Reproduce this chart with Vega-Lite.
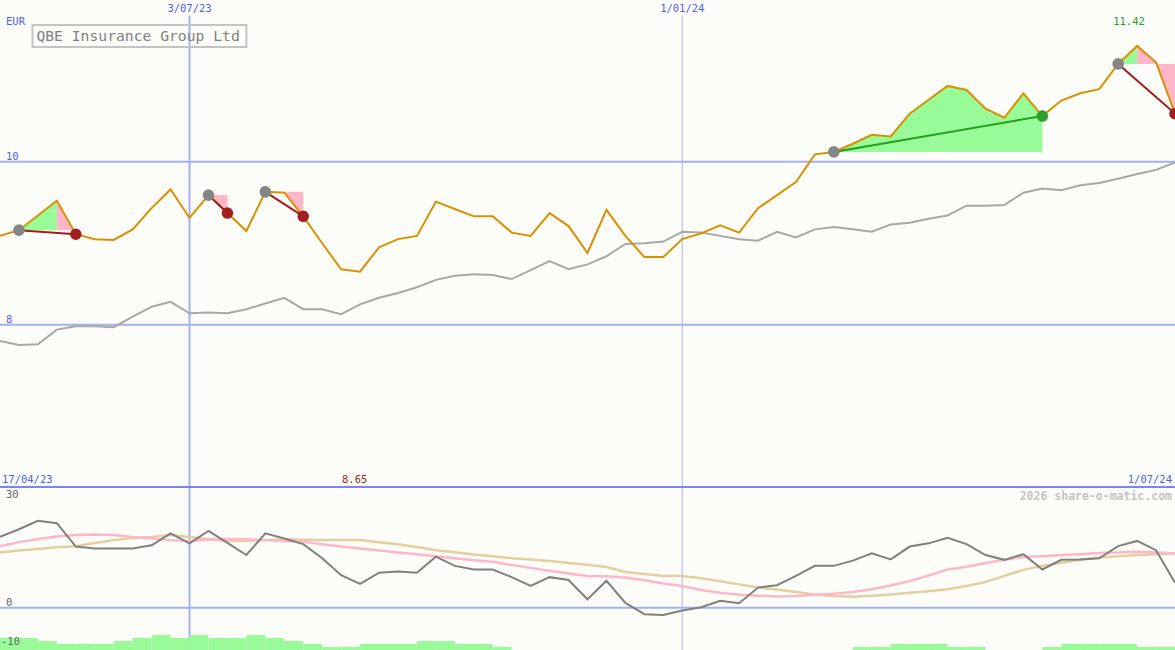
{
"$schema":"https://vega.github.io/schema/vega-lite/v6.json",
"width":1175,"height":650,"autosize":"none","padding":0,
"background":"#fcfdf8",
"config":{"view":{"stroke":null},"text":{"font":"DejaVu Sans Mono","fontSize":10.5}},
"datasets":{
"main":[
{"d":"2023-04-24","close":9.09,"ma":7.80,"osc":17.6,"s1":15.3,"s2":13.7},
{"d":"2023-05-01","close":9.16,"ma":7.75,"osc":19.5,"s1":16.3,"s2":14.2},
{"d":"2023-05-08","close":9.34,"ma":7.76,"osc":21.6,"s1":17.1,"s2":14.6},
{"d":"2023-05-15","close":9.52,"ma":7.94,"osc":21.0,"s1":17.7,"s2":15.0},
{"d":"2023-05-22","close":9.11,"ma":7.98,"osc":15.2,"s1":18.1,"s2":15.3},
{"d":"2023-05-29","close":9.05,"ma":7.98,"osc":14.7,"s1":18.2,"s2":16.1},
{"d":"2023-06-05","close":9.04,"ma":7.97,"osc":14.7,"s1":18.1,"s2":16.8},
{"d":"2023-06-12","close":9.17,"ma":8.10,"osc":14.7,"s1":17.6,"s2":17.3},
{"d":"2023-06-19","close":9.43,"ma":8.22,"osc":15.5,"s1":17.2,"s2":17.6},
{"d":"2023-06-26","close":9.66,"ma":8.28,"osc":18.5,"s1":16.8,"s2":18.1},
{"d":"2023-07-03","close":9.31,"ma":8.14,"osc":16.0,"s1":16.6,"s2":17.6},
{"d":"2023-07-10","close":9.59,"ma":8.15,"osc":19.1,"s1":16.9,"s2":17.1},
{"d":"2023-07-17","close":9.37,"ma":8.14,"osc":16.1,"s1":17.1,"s2":16.6},
{"d":"2023-07-24","close":9.15,"ma":8.19,"osc":13.1,"s1":17.0,"s2":16.6},
{"d":"2023-07-31","close":9.63,"ma":8.26,"osc":18.5,"s1":16.8,"s2":16.8},
{"d":"2023-08-07","close":9.62,"ma":8.33,"osc":17.2,"s1":16.5,"s2":17.0},
{"d":"2023-08-14","close":9.33,"ma":8.19,"osc":15.8,"s1":16.4,"s2":16.9},
{"d":"2023-08-21","close":9.00,"ma":8.19,"osc":12.3,"s1":15.8,"s2":16.8},
{"d":"2023-08-28","close":8.68,"ma":8.13,"osc":8.1,"s1":15.2,"s2":16.8},
{"d":"2023-09-04","close":8.65,"ma":8.25,"osc":5.9,"s1":14.7,"s2":16.8},
{"d":"2023-09-11","close":8.95,"ma":8.33,"osc":8.7,"s1":14.2,"s2":16.3},
{"d":"2023-09-18","close":9.05,"ma":8.39,"osc":9.0,"s1":13.7,"s2":15.8},
{"d":"2023-09-25","close":9.09,"ma":8.46,"osc":8.7,"s1":13.3,"s2":15.1},
{"d":"2023-10-02","close":9.51,"ma":8.55,"osc":12.7,"s1":12.8,"s2":14.3},
{"d":"2023-10-09","close":9.42,"ma":8.60,"osc":10.4,"s1":12.3,"s2":13.8},
{"d":"2023-10-16","close":9.33,"ma":8.62,"osc":9.5,"s1":11.8,"s2":13.2},
{"d":"2023-10-23","close":9.33,"ma":8.61,"osc":9.5,"s1":11.4,"s2":12.8},
{"d":"2023-10-30","close":9.13,"ma":8.56,"osc":7.6,"s1":10.6,"s2":12.3},
{"d":"2023-11-06","close":9.09,"ma":8.67,"osc":5.4,"s1":9.9,"s2":12.0},
{"d":"2023-11-13","close":9.37,"ma":8.78,"osc":7.6,"s1":9.2,"s2":11.6},
{"d":"2023-11-20","close":9.21,"ma":8.68,"osc":6.9,"s1":8.5,"s2":11.1},
{"d":"2023-11-27","close":8.88,"ma":8.74,"osc":2.1,"s1":7.9,"s2":10.7},
{"d":"2023-12-04","close":9.41,"ma":8.84,"osc":6.7,"s1":7.8,"s2":10.1},
{"d":"2023-12-11","close":9.09,"ma":8.99,"osc":1.2,"s1":7.5,"s2":8.9},
{"d":"2023-12-18","close":8.83,"ma":9.00,"osc":-1.6,"s1":6.8,"s2":8.4},
{"d":"2023-12-25","close":8.83,"ma":9.02,"osc":-1.8,"s1":6.0,"s2":7.9},
{"d":"2024-01-01","close":9.05,"ma":9.14,"osc":-0.7,"s1":5.4,"s2":7.9},
{"d":"2024-01-08","close":9.12,"ma":9.13,"osc":0.1,"s1":4.4,"s2":7.3},
{"d":"2024-01-15","close":9.22,"ma":9.09,"osc":1.7,"s1":3.7,"s2":6.6},
{"d":"2024-01-22","close":9.13,"ma":9.05,"osc":1.1,"s1":3.2,"s2":5.8},
{"d":"2024-01-29","close":9.43,"ma":9.03,"osc":5.0,"s1":3.0,"s2":5.0},
{"d":"2024-02-05","close":9.59,"ma":9.14,"osc":5.6,"s1":2.8,"s2":4.5},
{"d":"2024-02-12","close":9.75,"ma":9.07,"osc":7.9,"s1":2.9,"s2":3.9},
{"d":"2024-02-19","close":10.09,"ma":9.17,"osc":10.4,"s1":3.2,"s2":3.3},
{"d":"2024-02-26","close":10.12,"ma":9.20,"osc":10.4,"s1":3.5,"s2":2.9},
{"d":"2024-03-04","close":10.22,"ma":9.17,"osc":11.7,"s1":3.9,"s2":2.7},
{"d":"2024-03-11","close":10.33,"ma":9.14,"osc":13.5,"s1":4.6,"s2":3.0},
{"d":"2024-03-18","close":10.31,"ma":9.23,"osc":12.0,"s1":5.5,"s2":3.3},
{"d":"2024-03-25","close":10.59,"ma":9.25,"osc":15.2,"s1":6.6,"s2":3.7},
{"d":"2024-04-01","close":10.76,"ma":9.30,"osc":16.0,"s1":8.0,"s2":4.1},
{"d":"2024-04-08","close":10.93,"ma":9.34,"osc":17.4,"s1":9.5,"s2":4.6},
{"d":"2024-04-15","close":10.88,"ma":9.46,"osc":15.8,"s1":10.2,"s2":5.4},
{"d":"2024-04-22","close":10.65,"ma":9.46,"osc":13.1,"s1":11.1,"s2":6.4},
{"d":"2024-04-29","close":10.54,"ma":9.47,"osc":11.9,"s1":11.9,"s2":7.9},
{"d":"2024-05-06","close":10.84,"ma":9.62,"osc":13.3,"s1":12.6,"s2":9.4},
{"d":"2024-05-13","close":10.56,"ma":9.67,"osc":9.5,"s1":12.8,"s2":10.4},
{"d":"2024-05-20","close":10.75,"ma":9.65,"osc":11.9,"s1":13.1,"s2":11.2},
{"d":"2024-05-27","close":10.84,"ma":9.71,"osc":12.0,"s1":13.3,"s2":11.9},
{"d":"2024-06-03","close":10.89,"ma":9.74,"osc":12.3,"s1":13.6,"s2":12.5},
{"d":"2024-06-10","close":11.20,"ma":9.79,"osc":15.3,"s1":13.7,"s2":12.8},
{"d":"2024-06-17","close":11.42,"ma":9.85,"osc":16.6,"s1":13.9,"s2":13.1},
{"d":"2024-06-24","close":11.22,"ma":9.90,"osc":14.3,"s1":13.8,"s2":13.3},
{"d":"2024-07-01","close":10.59,"ma":9.99,"osc":6.2,"s1":13.5,"s2":13.5}
],
"vol":[
{"d":"2023-04-24","end":"2023-05-01","v":4},
{"d":"2023-05-01","end":"2023-05-08","v":4},
{"d":"2023-05-08","end":"2023-05-15","v":3},
{"d":"2023-05-15","end":"2023-05-22","v":2},
{"d":"2023-05-22","end":"2023-05-29","v":2},
{"d":"2023-05-29","end":"2023-06-05","v":2},
{"d":"2023-06-05","end":"2023-06-12","v":3},
{"d":"2023-06-12","end":"2023-06-19","v":4},
{"d":"2023-06-19","end":"2023-06-26","v":5},
{"d":"2023-06-26","end":"2023-07-03","v":4},
{"d":"2023-07-03","end":"2023-07-10","v":5},
{"d":"2023-07-10","end":"2023-07-17","v":4},
{"d":"2023-07-17","end":"2023-07-24","v":4},
{"d":"2023-07-24","end":"2023-07-31","v":5},
{"d":"2023-07-31","end":"2023-08-07","v":4},
{"d":"2023-08-07","end":"2023-08-14","v":3},
{"d":"2023-08-14","end":"2023-08-21","v":2},
{"d":"2023-08-21","end":"2023-08-28","v":1},
{"d":"2023-08-28","end":"2023-09-04","v":1},
{"d":"2023-09-04","end":"2023-09-11","v":2},
{"d":"2023-09-11","end":"2023-09-18","v":2},
{"d":"2023-09-18","end":"2023-09-25","v":2},
{"d":"2023-09-25","end":"2023-10-02","v":3},
{"d":"2023-10-02","end":"2023-10-09","v":3},
{"d":"2023-10-09","end":"2023-10-16","v":2},
{"d":"2023-10-16","end":"2023-10-23","v":2},
{"d":"2023-10-23","end":"2023-10-30","v":1},
{"d":"2024-03-04","end":"2024-03-11","v":1},
{"d":"2024-03-11","end":"2024-03-18","v":1},
{"d":"2024-03-18","end":"2024-03-25","v":2},
{"d":"2024-03-25","end":"2024-04-01","v":2},
{"d":"2024-04-01","end":"2024-04-08","v":2},
{"d":"2024-04-08","end":"2024-04-15","v":1},
{"d":"2024-04-15","end":"2024-04-22","v":1},
{"d":"2024-05-13","end":"2024-05-20","v":1},
{"d":"2024-05-20","end":"2024-05-27","v":2},
{"d":"2024-05-27","end":"2024-06-03","v":2},
{"d":"2024-06-03","end":"2024-06-10","v":2},
{"d":"2024-06-10","end":"2024-06-17","v":2},
{"d":"2024-06-17","end":"2024-06-24","v":1},
{"d":"2024-06-24","end":"2024-07-01","v":1}
],
"fills":[
{"seg":"e1a","kind":"gain","d":"2023-05-01","p":9.16,"base":9.16},
{"seg":"e1a","kind":"gain","d":"2023-05-08","p":9.34,"base":9.16},
{"seg":"e1a","kind":"gain","d":"2023-05-15","p":9.52,"base":9.16},
{"seg":"e1b","kind":"loss","d":"2023-05-15","p":9.52,"base":9.16},
{"seg":"e1b","kind":"loss","d":"2023-05-22","p":9.11,"base":9.16},
{"seg":"e2","kind":"loss","d":"2023-07-10","p":9.59,"base":9.59},
{"seg":"e2","kind":"loss","d":"2023-07-17","p":9.37,"base":9.59},
{"seg":"e3","kind":"loss","d":"2023-07-31","p":9.63,"base":9.63},
{"seg":"e3","kind":"loss","d":"2023-08-07","p":9.62,"base":9.63},
{"seg":"e3","kind":"loss","d":"2023-08-14","p":9.33,"base":9.63},
{"seg":"e4","kind":"gain","d":"2024-02-26","p":10.12,"base":10.12},
{"seg":"e4","kind":"gain","d":"2024-03-04","p":10.22,"base":10.12},
{"seg":"e4","kind":"gain","d":"2024-03-11","p":10.33,"base":10.12},
{"seg":"e4","kind":"gain","d":"2024-03-18","p":10.31,"base":10.12},
{"seg":"e4","kind":"gain","d":"2024-03-25","p":10.59,"base":10.12},
{"seg":"e4","kind":"gain","d":"2024-04-01","p":10.76,"base":10.12},
{"seg":"e4","kind":"gain","d":"2024-04-08","p":10.93,"base":10.12},
{"seg":"e4","kind":"gain","d":"2024-04-15","p":10.88,"base":10.12},
{"seg":"e4","kind":"gain","d":"2024-04-22","p":10.65,"base":10.12},
{"seg":"e4","kind":"gain","d":"2024-04-29","p":10.54,"base":10.12},
{"seg":"e4","kind":"gain","d":"2024-05-06","p":10.84,"base":10.12},
{"seg":"e4","kind":"gain","d":"2024-05-13","p":10.56,"base":10.12},
{"seg":"e5a","kind":"gain","d":"2024-06-10","p":11.20,"base":11.20},
{"seg":"e5a","kind":"gain","d":"2024-06-17","p":11.42,"base":11.20},
{"seg":"e5b","kind":"loss","d":"2024-06-17","p":11.42,"base":11.20},
{"seg":"e5b","kind":"loss","d":"2024-06-24","p":11.22,"base":11.20},
{"seg":"e5b","kind":"loss","d":"2024-07-01","p":10.59,"base":11.20}
],
"trades":[
{"trade":"e1","result":"loss","d":"2023-05-01","p":9.16},
{"trade":"e1","result":"loss","d":"2023-05-22","p":9.11},
{"trade":"e2","result":"loss","d":"2023-07-10","p":9.59},
{"trade":"e2","result":"loss","d":"2023-07-17","p":9.37},
{"trade":"e3","result":"loss","d":"2023-07-31","p":9.63},
{"trade":"e3","result":"loss","d":"2023-08-14","p":9.33},
{"trade":"e4","result":"gain","d":"2024-02-26","p":10.12},
{"trade":"e4","result":"gain","d":"2024-05-13","p":10.56},
{"trade":"e5","result":"loss","d":"2024-06-10","p":11.20},
{"trade":"e5","result":"loss","d":"2024-07-01","p":10.59}
],
"marks":[
{"role":"entry","d":"2023-05-01","p":9.16},
{"role":"loss","d":"2023-05-22","p":9.11},
{"role":"entry","d":"2023-07-10","p":9.59},
{"role":"loss","d":"2023-07-17","p":9.37},
{"role":"entry","d":"2023-07-31","p":9.63},
{"role":"loss","d":"2023-08-14","p":9.33},
{"role":"entry","d":"2024-02-26","p":10.12},
{"role":"gain","d":"2024-05-13","p":10.56},
{"role":"entry","d":"2024-06-10","p":11.20},
{"role":"loss","d":"2024-07-01","p":10.59}
],
"vgrid":[
{"kind":"major","d":"2023-07-03","top":11.79,"bot":4.009},
{"kind":"minor","d":"2024-01-01","top":11.79,"bot":4.009}
],
"hgrid":[{"p":10},{"p":8}],
"ogrid":[{"kind":"sep","v":30},{"kind":"zero","v":0}],
"box":[{"d":"2023-05-06","end":"2023-07-24","top":11.677,"bot":11.407}],
"ptext":[
{"grp":"blueL","d":"2023-04-24","p":11.677,"t":"EUR"},
{"grp":"blueL","d":"2023-04-24","p":10.027,"t":"10"},
{"grp":"blueL","d":"2023-04-24","p":8.021,"t":"8"},
{"grp":"blueL2","d":"2023-04-24","p":6.058,"t":"17/04/23"},
{"grp":"blueC","d":"2023-07-03","p":11.837,"t":"3/07/23"},
{"grp":"blueC","d":"2024-01-01","p":11.837,"t":"1/01/24"},
{"grp":"blueR","d":"2024-07-01","p":6.058,"t":"1/07/24"},
{"grp":"red","d":"2023-09-02","p":6.058,"t":"8.65"},
{"grp":"green","d":"2024-06-14","p":11.677,"t":"11.42"},
{"grp":"title","d":"2023-06-14","p":11.485,"t":"QBE Insurance Group Ltd"}
],
"otext":[
{"grp":"lab","d":"2023-04-24","v":27.27,"t":"30"},
{"grp":"lab","d":"2023-04-24","v":0.42,"t":"0"},
{"grp":"lab2","d":"2023-04-24","v":-9.3,"t":"-10"},
{"grp":"wm","d":"2024-07-01","v":26.77,"t":"2026 share-o-matic.com"}
]
},
"layer":[
{"resolve":{"scale":{"color":"independent"}},
 "layer":[
  {"data":{"name":"vgrid"},"transform":[{"filter":"datum.kind == 'major'"}],"mark":{"type":"rule","color":"#a4b0f0","strokeWidth":2},
   "encoding":{"x":{"field":"d","type":"temporal","scale":{"type":"utc","nice":false,"domain":[{"year":2023,"month":4,"date":24,"utc":true},{"year":2024,"month":7,"date":1,"utc":true}]},"axis":null},
   "y":{"field":"top","type":"quantitative","scale":{"domain":[4.009,11.984],"nice":false,"zero":false},"axis":null},"y2":{"field":"bot"}}},
  {"data":{"name":"vgrid"},"transform":[{"filter":"datum.kind == 'minor'"}],"mark":{"type":"rule","color":"#b0b4d4","strokeWidth":1},
   "encoding":{"x":{"field":"d","type":"temporal","scale":{"type":"utc","nice":false,"domain":[{"year":2023,"month":4,"date":24,"utc":true},{"year":2024,"month":7,"date":1,"utc":true}]},"axis":null},
   "y":{"field":"top","type":"quantitative","scale":{"domain":[4.009,11.984],"nice":false,"zero":false},"axis":null},"y2":{"field":"bot"}}},
  {"data":{"name":"hgrid"},"mark":{"type":"rule","color":"#a4b0f0","strokeWidth":2},
   "encoding":{"y":{"field":"p","type":"quantitative","scale":{"domain":[4.009,11.984],"nice":false,"zero":false},"axis":null}}},
  {"data":{"name":"fills"},"mark":{"type":"area","opacity":1,"interpolate":"linear"},
   "encoding":{"x":{"field":"d","type":"temporal","scale":{"type":"utc","nice":false,"domain":[{"year":2023,"month":4,"date":24,"utc":true},{"year":2024,"month":7,"date":1,"utc":true}]},"axis":null},
   "y":{"field":"p","type":"quantitative","scale":{"domain":[4.009,11.984],"nice":false,"zero":false},"axis":null},"y2":{"field":"base"},
   "detail":{"field":"seg"},
   "color":{"field":"kind","type":"nominal","scale":{"domain":["gain","loss"],"range":["#98fb98","#ffb6c8"]},"legend":null}}},
  {"data":{"name":"main"},"mark":{"type":"line","color":"#a8a8a8","strokeWidth":2},
   "encoding":{"x":{"field":"d","type":"temporal","scale":{"type":"utc","nice":false,"domain":[{"year":2023,"month":4,"date":24,"utc":true},{"year":2024,"month":7,"date":1,"utc":true}]},"axis":null},
   "y":{"field":"ma","type":"quantitative","scale":{"domain":[4.009,11.984],"nice":false,"zero":false},"axis":null}}},
  {"data":{"name":"main"},"mark":{"type":"line","color":"#d99000","strokeWidth":2},
   "encoding":{"x":{"field":"d","type":"temporal","scale":{"type":"utc","nice":false,"domain":[{"year":2023,"month":4,"date":24,"utc":true},{"year":2024,"month":7,"date":1,"utc":true}]},"axis":null},
   "y":{"field":"close","type":"quantitative","scale":{"domain":[4.009,11.984],"nice":false,"zero":false},"axis":null}}},
  {"data":{"name":"trades"},"mark":{"type":"line","strokeWidth":2},
   "encoding":{"x":{"field":"d","type":"temporal","scale":{"type":"utc","nice":false,"domain":[{"year":2023,"month":4,"date":24,"utc":true},{"year":2024,"month":7,"date":1,"utc":true}]},"axis":null},
   "y":{"field":"p","type":"quantitative","scale":{"domain":[4.009,11.984],"nice":false,"zero":false},"axis":null},
   "detail":{"field":"trade"},
   "color":{"field":"result","type":"nominal","scale":{"domain":["gain","loss"],"range":["#22a022","#a01c1c"]},"legend":null}}},
  {"data":{"name":"marks"},"mark":{"type":"point","filled":true,"opacity":1,"size":135},
   "encoding":{"x":{"field":"d","type":"temporal","scale":{"type":"utc","nice":false,"domain":[{"year":2023,"month":4,"date":24,"utc":true},{"year":2024,"month":7,"date":1,"utc":true}]},"axis":null},
   "y":{"field":"p","type":"quantitative","scale":{"domain":[4.009,11.984],"nice":false,"zero":false},"axis":null},
   "color":{"field":"role","type":"nominal","scale":{"domain":["entry","loss","gain"],"range":["#858585","#a31e1e","#2a9f2a"]},"legend":null}}},
  {"data":{"name":"box"},"mark":{"type":"rect","fillOpacity":0,"stroke":"#c4c4c4","strokeWidth":2},
   "encoding":{"x":{"field":"d","type":"temporal","scale":{"type":"utc","nice":false,"domain":[{"year":2023,"month":4,"date":24,"utc":true},{"year":2024,"month":7,"date":1,"utc":true}]},"axis":null},"x2":{"field":"end"},
   "y":{"field":"top","type":"quantitative","scale":{"domain":[4.009,11.984],"nice":false,"zero":false},"axis":null},"y2":{"field":"bot"}}},
  {"data":{"name":"ptext"},"transform":[{"filter":"datum.grp == 'title'"}],"mark":{"type":"text","align":"center","baseline":"alphabetic","fontSize":14.7,"color":"#808080"},
   "encoding":{"x":{"field":"d","type":"temporal","scale":{"type":"utc","nice":false,"domain":[{"year":2023,"month":4,"date":24,"utc":true},{"year":2024,"month":7,"date":1,"utc":true}]},"axis":null},
   "y":{"field":"p","type":"quantitative","scale":{"domain":[4.009,11.984],"nice":false,"zero":false},"axis":null},"text":{"field":"t"}}},
  {"data":{"name":"ptext"},"transform":[{"filter":"datum.grp == 'blueL'"}],"mark":{"type":"text","align":"left","baseline":"alphabetic","dx":6,"color":"#4c5ef0"},
   "encoding":{"x":{"field":"d","type":"temporal","scale":{"type":"utc","nice":false,"domain":[{"year":2023,"month":4,"date":24,"utc":true},{"year":2024,"month":7,"date":1,"utc":true}]},"axis":null},
   "y":{"field":"p","type":"quantitative","scale":{"domain":[4.009,11.984],"nice":false,"zero":false},"axis":null},"text":{"field":"t"}}},
  {"data":{"name":"ptext"},"transform":[{"filter":"datum.grp == 'blueL2'"}],"mark":{"type":"text","align":"left","baseline":"alphabetic","dx":2,"color":"#4c5ef0"},
   "encoding":{"x":{"field":"d","type":"temporal","scale":{"type":"utc","nice":false,"domain":[{"year":2023,"month":4,"date":24,"utc":true},{"year":2024,"month":7,"date":1,"utc":true}]},"axis":null},
   "y":{"field":"p","type":"quantitative","scale":{"domain":[4.009,11.984],"nice":false,"zero":false},"axis":null},"text":{"field":"t"}}},
  {"data":{"name":"ptext"},"transform":[{"filter":"datum.grp == 'blueC'"}],"mark":{"type":"text","align":"center","baseline":"alphabetic","color":"#4c5ef0"},
   "encoding":{"x":{"field":"d","type":"temporal","scale":{"type":"utc","nice":false,"domain":[{"year":2023,"month":4,"date":24,"utc":true},{"year":2024,"month":7,"date":1,"utc":true}]},"axis":null},
   "y":{"field":"p","type":"quantitative","scale":{"domain":[4.009,11.984],"nice":false,"zero":false},"axis":null},"text":{"field":"t"}}},
  {"data":{"name":"ptext"},"transform":[{"filter":"datum.grp == 'blueR'"}],"mark":{"type":"text","align":"right","baseline":"alphabetic","dx":-3,"color":"#4c5ef0"},
   "encoding":{"x":{"field":"d","type":"temporal","scale":{"type":"utc","nice":false,"domain":[{"year":2023,"month":4,"date":24,"utc":true},{"year":2024,"month":7,"date":1,"utc":true}]},"axis":null},
   "y":{"field":"p","type":"quantitative","scale":{"domain":[4.009,11.984],"nice":false,"zero":false},"axis":null},"text":{"field":"t"}}},
  {"data":{"name":"ptext"},"transform":[{"filter":"datum.grp == 'red'"}],"mark":{"type":"text","align":"center","baseline":"alphabetic","color":"#a01c1c"},
   "encoding":{"x":{"field":"d","type":"temporal","scale":{"type":"utc","nice":false,"domain":[{"year":2023,"month":4,"date":24,"utc":true},{"year":2024,"month":7,"date":1,"utc":true}]},"axis":null},
   "y":{"field":"p","type":"quantitative","scale":{"domain":[4.009,11.984],"nice":false,"zero":false},"axis":null},"text":{"field":"t"}}},
  {"data":{"name":"ptext"},"transform":[{"filter":"datum.grp == 'green'"}],"mark":{"type":"text","align":"center","baseline":"alphabetic","color":"#22a022"},
   "encoding":{"x":{"field":"d","type":"temporal","scale":{"type":"utc","nice":false,"domain":[{"year":2023,"month":4,"date":24,"utc":true},{"year":2024,"month":7,"date":1,"utc":true}]},"axis":null},
   "y":{"field":"p","type":"quantitative","scale":{"domain":[4.009,11.984],"nice":false,"zero":false},"axis":null},"text":{"field":"t"}}}
 ]},
{"layer":[
  {"data":{"name":"vol"},"mark":{"type":"rect","color":"#98fb98"},
   "encoding":{"x":{"field":"d","type":"temporal","scale":{"type":"utc","nice":false,"domain":[{"year":2023,"month":4,"date":24,"utc":true},{"year":2024,"month":7,"date":1,"utc":true}]},"axis":null},"x2":{"field":"end"},
   "y":{"field":"v","type":"quantitative","scale":{"domain":[0,216.67],"nice":false,"zero":false},"axis":null},"y2":{"datum":0}}}
 ]},
{"layer":[
  {"data":{"name":"ogrid"},"transform":[{"filter":"datum.kind == 'zero'"}],"mark":{"type":"rule","color":"#a4b0f0","strokeWidth":2},
   "encoding":{"y":{"field":"v","type":"quantitative","scale":{"domain":[-10.51,151.05],"nice":false,"zero":false},"axis":null}}},
  {"data":{"name":"ogrid"},"transform":[{"filter":"datum.kind == 'sep'"}],"mark":{"type":"rule","color":"#7a86ea","strokeWidth":2},
   "encoding":{"y":{"field":"v","type":"quantitative","scale":{"domain":[-10.51,151.05],"nice":false,"zero":false},"axis":null}}},
  {"data":{"name":"main"},"mark":{"type":"line","color":"#e3cf9f","strokeWidth":2.5},
   "encoding":{"x":{"field":"d","type":"temporal","scale":{"type":"utc","nice":false,"domain":[{"year":2023,"month":4,"date":24,"utc":true},{"year":2024,"month":7,"date":1,"utc":true}]},"axis":null},
   "y":{"field":"s2","type":"quantitative","scale":{"domain":[-10.51,151.05],"nice":false,"zero":false},"axis":null}}},
  {"data":{"name":"main"},"mark":{"type":"line","color":"#ffb6c8","strokeWidth":2.5},
   "encoding":{"x":{"field":"d","type":"temporal","scale":{"type":"utc","nice":false,"domain":[{"year":2023,"month":4,"date":24,"utc":true},{"year":2024,"month":7,"date":1,"utc":true}]},"axis":null},
   "y":{"field":"s1","type":"quantitative","scale":{"domain":[-10.51,151.05],"nice":false,"zero":false},"axis":null}}},
  {"data":{"name":"main"},"mark":{"type":"line","color":"#808080","strokeWidth":2},
   "encoding":{"x":{"field":"d","type":"temporal","scale":{"type":"utc","nice":false,"domain":[{"year":2023,"month":4,"date":24,"utc":true},{"year":2024,"month":7,"date":1,"utc":true}]},"axis":null},
   "y":{"field":"osc","type":"quantitative","scale":{"domain":[-10.51,151.05],"nice":false,"zero":false},"axis":null}}},
  {"data":{"name":"otext"},"transform":[{"filter":"datum.grp == 'lab'"}],"mark":{"type":"text","align":"left","baseline":"alphabetic","dx":6,"color":"#666666"},
   "encoding":{"x":{"field":"d","type":"temporal","scale":{"type":"utc","nice":false,"domain":[{"year":2023,"month":4,"date":24,"utc":true},{"year":2024,"month":7,"date":1,"utc":true}]},"axis":null},
   "y":{"field":"v","type":"quantitative","scale":{"domain":[-10.51,151.05],"nice":false,"zero":false},"axis":null},"text":{"field":"t"}}},
  {"data":{"name":"otext"},"transform":[{"filter":"datum.grp == 'lab2'"}],"mark":{"type":"text","align":"left","baseline":"alphabetic","dx":1,"color":"#666666"},
   "encoding":{"x":{"field":"d","type":"temporal","scale":{"type":"utc","nice":false,"domain":[{"year":2023,"month":4,"date":24,"utc":true},{"year":2024,"month":7,"date":1,"utc":true}]},"axis":null},
   "y":{"field":"v","type":"quantitative","scale":{"domain":[-10.51,151.05],"nice":false,"zero":false},"axis":null},"text":{"field":"t"}}},
  {"data":{"name":"otext"},"transform":[{"filter":"datum.grp == 'wm'"}],"mark":{"type":"text","align":"right","baseline":"alphabetic","dx":-3,"fontSize":11.5,"fontWeight":"bold","color":"#c4c4c4"},
   "encoding":{"x":{"field":"d","type":"temporal","scale":{"type":"utc","nice":false,"domain":[{"year":2023,"month":4,"date":24,"utc":true},{"year":2024,"month":7,"date":1,"utc":true}]},"axis":null},
   "y":{"field":"v","type":"quantitative","scale":{"domain":[-10.51,151.05],"nice":false,"zero":false},"axis":null},"text":{"field":"t"}}}
 ]}
],
"resolve":{"scale":{"y":"independent"}}
}
